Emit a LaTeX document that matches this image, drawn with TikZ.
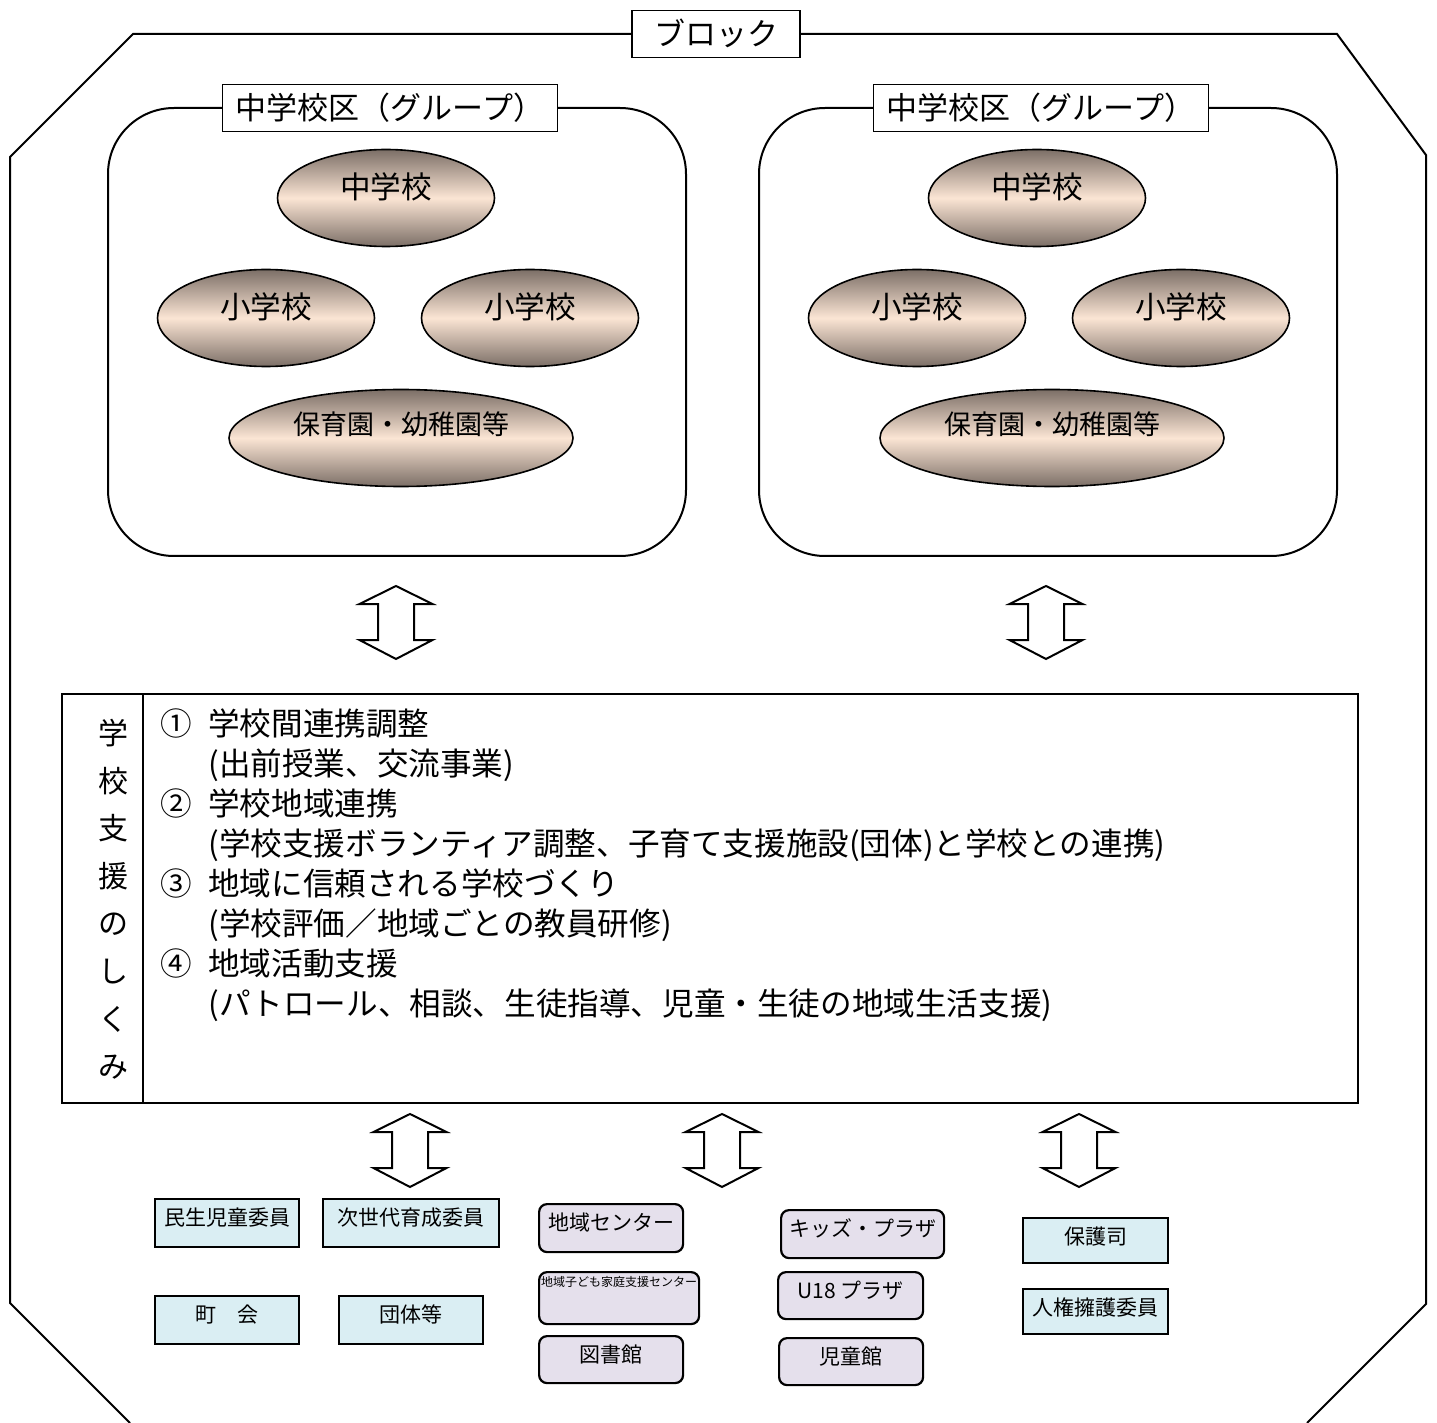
\documentclass[tikz,border=0pt]{standalone}
\usepackage{fontspec}
\newfontfamily\jp{Noto Sans CJK JP}
\usetikzlibrary{shapes.geometric}

\definecolor{boxblue}{RGB}{218,238,243}
\definecolor{boxlilac}{RGB}{229,224,236}
\definecolor{ovallight}{RGB}{251,229,212}
\definecolor{ovaldark}{RGB}{124,111,103}

\tikzset{
  frame/.style={line width=1pt},
  grp/.style={draw, line width=1pt, rounded corners=33pt, inner sep=0pt,
    minimum width=289pt, minimum height=224pt},
  tag/.style={draw, line width=0.8pt, fill=white, inner sep=0pt,
    font=\jp\fontsize{15.5}{18}\selectfont, text height=13pt, text depth=1.2pt,
    minimum height=23.5pt},
  school/.style={ellipse, draw, line width=0.8pt, top color=ovaldark,
    bottom color=ovaldark, middle color=ovallight, inner sep=0pt,
    minimum width=108.5pt, minimum height=48.5pt,
    font=\jp\fontsize{15.3}{18}\selectfont, text height=8pt, text depth=7.4pt},
  nursery/.style={school, minimum width=172pt,
    font=\jp\fontsize{13.5}{16}\selectfont, text height=6pt, text depth=9.8pt},
  dblarrow/.style={line width=1pt, fill=white},
  mainbox/.style={draw, line width=1pt, inner sep=0pt,
    minimum width=648pt, minimum height=204.5pt},
  colchar/.style={inner sep=0pt, font=\jp\fontsize{15}{18}\selectfont},
  rowtxt/.style={anchor=base west, inner sep=0pt, font=\jp\fontsize{15.8}{20}\selectfont},
  bluebox/.style={draw, line width=1.1pt, fill=boxblue, anchor=north west,
    inner xsep=0pt, inner ysep=2pt, font=\jp\fontsize{10.5}{12}\selectfont,
    text height=11pt, text depth=9pt},
  lilacbox/.style={bluebox, fill=boxlilac, rounded corners=4pt}
}

\begin{document}
\begin{tikzpicture}[x=0.5pt,y=-0.5pt]
\useasboundingbox (0,0) rectangle (1437,1423);
\fill[white] (0,0) rectangle (1437,1423);

% block outline
\draw[frame] (130,1423) -- (10,1303) -- (10,157) -- (133,34) -- (1337,34)
  -- (1426,155) -- (1426,1304) -- (1307,1423);
\node[tag, minimum width=84pt] (block) at (716,34) {ブロック};

% the two school districts
\foreach \dx/\g in {0/L,651/R}
{
  \node[grp] (grp\g) at (397+\dx,332) {};
  \node[tag, minimum width=167.5pt] (grptag\g) at (390+\dx,108) {中学校区（グループ）};
  \node[school] (chu\g) at (386+\dx,198) {中学校};
  \node[school] (shoa\g) at (266+\dx,318) {小学校};
  \node[school] (shob\g) at (530+\dx,318) {小学校};
  \node[nursery] (hoiku\g) at (401+\dx,438) {保育園・幼稚園等};
}

% double arrows
\foreach \ax/\ay in {396/586,1046/586,410/1114,722/1114,1079/1114}
{
  \draw[dblarrow] (\ax,\ay) -- ++(36.5,18) -- ++(-18.5,0) -- ++(0,36)
    -- ++(18.5,0) -- ++(-36.5,19) -- ++(-36.5,-19) -- ++(18.5,0)
    -- ++(0,-36) -- ++(-18.5,0) -- cycle;
}

% support system
\node[mainbox] (sys) at (710,898.5) {};
\draw[line width=1pt] (143,694) -- (143,1103);
\foreach \c [count=\i from 0] in {学,校,支,援,の,し,く,み}
  \node[colchar] (col\i) at (113,733+47.7*\i) {\c};
\foreach \t [count=\i from 0] in {
  {\makebox[24pt][l]{①}学校間連携調整},
  {\hspace{24pt}(出前授業、交流事業)},
  {\makebox[24pt][l]{②}学校地域連携},
  {\hspace{24pt}(学校支援ボランティア調整、子育て支援施設(団体)と学校との連携)},
  {\makebox[24pt][l]{③}地域に信頼される学校づくり},
  {\hspace{24pt}(学校評価／地域ごとの教員研修)},
  {\makebox[24pt][l]{④}地域活動支援},
  {\hspace{24pt}(パトロール、相談、生徒指導、児童・生徒の地域生活支援)}}
  \node[rowtxt] (row\i) at (160,735+40*\i) {\t};

% partners
\node[bluebox, minimum width=72pt] (minsei) at (154,1198) {民生児童委員};
\node[bluebox, minimum width=88pt] (jisedai) at (322,1198) {次世代育成委員};
\node[bluebox, minimum width=72pt] (chokai) at (154,1295) {町　会};
\node[bluebox, minimum width=72pt] (dantai) at (338,1295) {団体等};

\node[lilacbox, minimum width=72pt] (center) at (538,1203) {地域センター};
\node[lilacbox, minimum width=80pt, font=\jp\fontsize{6}{7}\selectfont,
  text height=5.3pt, text depth=16.7pt] (kodomo) at (538,1271) {地域子ども家庭支援センター};
\node[lilacbox, minimum width=72pt, text depth=8.5pt] (tosho) at (538,1335) {図書館};

\node[lilacbox, minimum width=81.5pt] (kids) at (780,1209) {キッズ・プラザ};
\node[lilacbox, minimum width=72.5pt, text depth=8.5pt] (uplaza) at (777,1271) {U18 プラザ};
\node[lilacbox, minimum width=72pt, text depth=8.5pt] (jidokan) at (778,1337) {児童館};

\node[bluebox, minimum width=72.5pt, text depth=7.5pt] (hogoshi) at (1022,1217) {保護司};
\node[bluebox, minimum width=72.5pt, text depth=7.5pt] (jinken) at (1022,1288) {人権擁護委員};

\end{tikzpicture}
\end{document}
